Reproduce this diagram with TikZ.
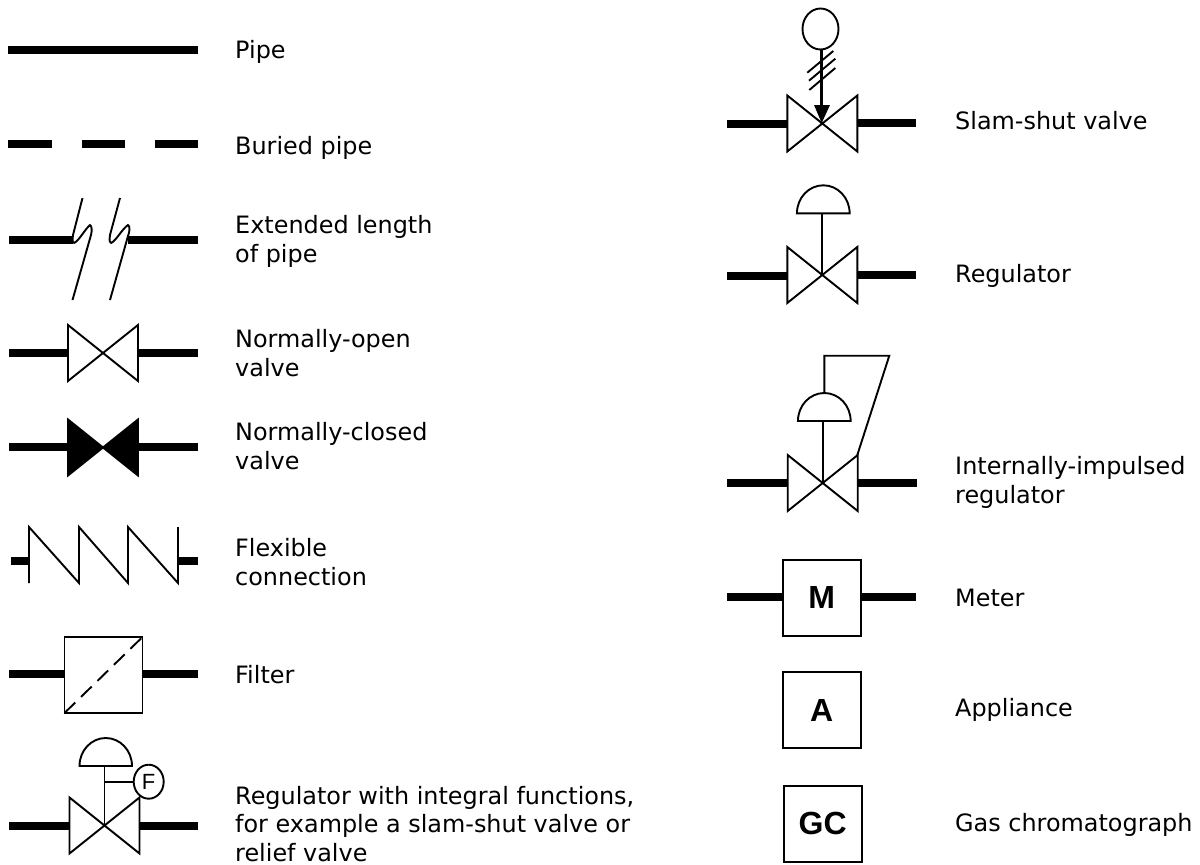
\documentclass[tikz,border=0pt]{standalone}
\usepackage{fontspec}
\usetikzlibrary{shapes.geometric}
\setmainfont{DejaVu Sans}
\newfontfamily\boldsans{Liberation Sans}
\tikzset{
  x=1pt,y=-1pt,
  thin line/.style={line width=1.9pt,line join=miter,line cap=butt},
  pipe/.style={line width=8pt},
  symbolbox/.style={draw,line width=1.9pt,minimum width=78pt,minimum height=76pt,inner sep=0pt,font=\boldsans\bfseries\fontsize{32}{32}\selectfont},
  lbl/.style={anchor=base west,align=left,inner sep=0pt,font=\fontsize{23.9}{28.5}\selectfont},
}
\newcommand{\valvesym}[3]{% center x, y, fill
  \draw[thin line,fill=#3] (#1-35,#2-28) -- (#1+35,#2+28) -- (#1+35,#2-28) -- (#1-35,#2+28) -- cycle;
}
\newcommand{\domesym}[3]{% center x, base y, half width
  \draw[thin line,fill=white] (#1-#3,#2) arc[start angle=180,end angle=360,x radius=#3,y radius=28] -- cycle;
}
\begin{document}
\begin{tikzpicture}
\useasboundingbox (0,0) rectangle (1200,865);
% pipe
\coordinate (p1a) at (8,50); \coordinate (p1b) at (198,50);
\draw[pipe] (p1a) -- (p1b);
\node[lbl] (t1) at (235,58) {Pipe};
% buried
\foreach \a/\b in {8/52,82/125,155/198} \draw[pipe] (\a,143.5) -- (\b,143.5);
\node[lbl] (t2) at (235,154) {Buried pipe};
% extended
\draw[pipe] (9,239.5) -- (73,239.5);
\draw[pipe] (128,239.5) -- (198,239.5);
\draw[thin line,line join=round] (82.5,198) -- (73,235) .. controls (72,241) and (73,243) .. (74,243) .. controls (79,241) and (85,229) .. (90,225) .. controls (92,226) and (92,231) .. (91,235) -- (72.5,300);
\draw[thin line,line join=round] (120,198) -- (110,235) .. controls (109,241) and (110,243) .. (111,243) .. controls (116,241) and (122,229) .. (128,225) .. controls (130,226) and (130,231) .. (128,236) -- (110,300);
\node[lbl] (t3) at (235,262) {Extended length\\of pipe};
% open valve
\draw[pipe] (9,353) -- (68,353); \draw[pipe] (138,353) -- (198,353);
\valvesym{103}{353}{white}
\node[lbl] (t4) at (235,376) {Normally-open\\valve};
% closed valve
\draw[pipe] (9,447) -- (68,447); \draw[pipe] (138,447) -- (198,447);
\valvesym{103}{447.5}{black}
\node[lbl] (t5) at (235,469) {Normally-closed\\valve};
% flexible
\draw[pipe] (11,561) -- (29,561); \draw[pipe] (178,561) -- (198,561);
\draw[thin line] (29,583) -- (29,527) -- (79,583) -- (79,527) -- (128,583) -- (128,527) -- (178,583) -- (178,527);
\node[lbl] (t6) at (235,585) {Flexible\\connection};
% filter
\draw[pipe] (9,674) -- (65,674); \draw[pipe] (142,674) -- (198,674);
\draw[thin line] (64.5,637) rectangle (142.5,713);
\draw[thin line,dash pattern=on 15pt off 8pt] (64.5,713) -- (142.5,637);
\node[lbl] (t7) at (235,683) {Filter};
% regulator with F
\draw[pipe] (9,825.5) -- (69,825.5); \draw[pipe] (139,825.5) -- (198,825.5);
\valvesym{104.5}{825.5}{white}
\draw[thin line] (104.5,766) -- (104.5,825.5);
\domesym{105.75}{766}{26.25}
\node[draw,line width=1.9pt,fill=white,ellipse,inner sep=0pt,minimum width=30pt,minimum height=34pt,font=\boldsans\fontsize{22}{22}\selectfont] (f) at (148.7,781.7) {F};
\coordinate (fstem) at (104.5,781.7);
\draw[thin line] (fstem) -- (f);
\node[lbl] (t8) at (235,861) {Regulator with integral functions,\\for example a slam-shut valve or\\relief valve};
% slam-shut
\draw[pipe] (727,124) -- (788,124); \draw[pipe] (857,123) -- (916,123);
\valvesym{822.3}{123.5}{white}
\draw[thin line] (807.3,72.7) -- (833.3,51);
\draw[thin line] (809,80.7) -- (835.3,58.7);
\draw[thin line] (809.3,90) -- (835.3,68);
\draw[line width=3.5pt] (821.5,49) -- (821.5,106);
\fill (814,105) -- (830,105) -- (821.7,123) -- cycle;
\draw[thin line] (820.5,29) ellipse[x radius=18,y radius=20.5];
\node[lbl] (t9) at (955,129.3) {Slam-shut valve};
% regulator
\draw[pipe] (727,276) -- (788,276); \draw[pipe] (857,275.3) -- (916,275.3);
\valvesym{822.3}{275}{white}
\draw[thin line] (822,213.3) -- (822,275);
\domesym{823.3}{213.3}{26.35}
\node[lbl] (t10) at (955,282.3) {Regulator};
% internally impulsed
\draw[pipe] (727,483.3) -- (788,483.3); \draw[pipe] (857,483.3) -- (917,483.3);
\valvesym{822.7}{483}{white}
\draw[thin line] (822.7,421) -- (822.7,483);
\domesym{824.3}{421}{26.35}
\draw[thin line] (824.3,393) -- (824.3,355.7) -- (889.3,355.7) -- (857.3,455);
\node[lbl] (t11) at (955,503) {Internally-impulsed\\regulator};
% meter
\draw[pipe] (727,597) -- (783,597); \draw[pipe] (861,597) -- (916,597);
\node[symbolbox] (m) at (821.7,597.7) {M};
\node[lbl] (t12) at (955,606) {Meter};
% appliance
\node[symbolbox] (a) at (821.7,710.2) {A};
\node[lbl] (t13) at (955,716) {Appliance};
% GC
\node[symbolbox] (g) at (822.7,823.7) {GC};
\node[lbl] (t14) at (955,831) {Gas chromatograph};
\end{tikzpicture}
\end{document}
